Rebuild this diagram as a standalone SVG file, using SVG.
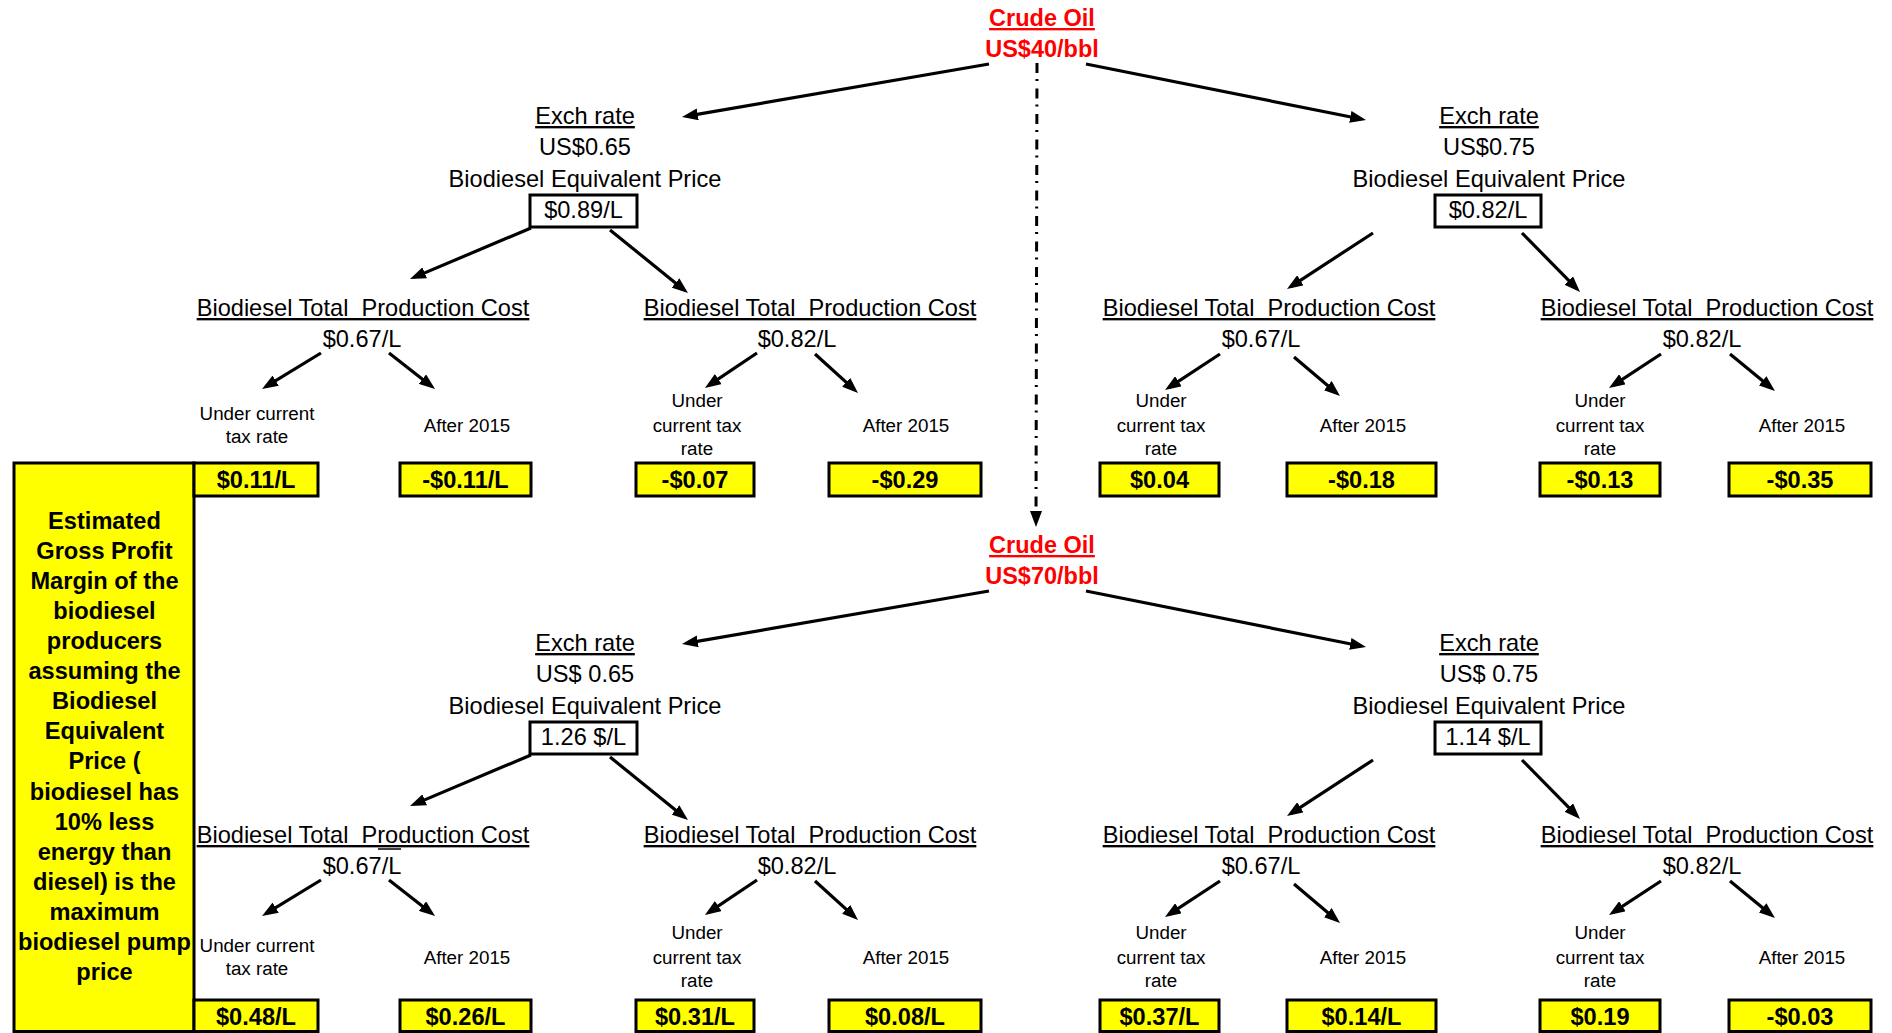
<svg xmlns="http://www.w3.org/2000/svg" width="1892" height="1033" viewBox="0 0 1892 1033">
<style>
text{font-family:"Liberation Sans",Arial,sans-serif;fill:#000;text-anchor:middle}
.crude{font-size:23.5px;font-weight:bold;fill:#FF0000}
.u{text-decoration:underline}
.reg{font-size:23.6px}
.sm{font-size:18.8px}
.val{font-size:23.6px;font-weight:bold}
.side{font-size:23.6px;font-weight:bold}
.ybox{fill:#FFFF00;stroke:#000;stroke-width:3}
.pbox{fill:#fff;stroke:#000;stroke-width:3}
.arr{fill:none;stroke:#000;stroke-width:3.2;marker-end:url(#ah)}
.dd{fill:none;stroke:#000;stroke-width:3;stroke-dasharray:10 6 2 7.5;marker-end:url(#ah)}
</style>
<defs>
<marker id="ah" viewBox="0 0 16 12" refX="11" refY="6" markerWidth="16" markerHeight="12" orient="auto" markerUnits="userSpaceOnUse">
<path d="M0,0 L16,6 L0,12 Z" fill="#000"/>
</marker>
</defs>
<rect width="1892" height="1033" fill="#fff"/>

<g id="side-label">
<rect class="ybox" x="14" y="463" width="180" height="568.5"/>
<text class="side" x="104.5" y="529">Estimated</text>
<text class="side" x="104.5" y="559">Gross Profit</text>
<text class="side" x="104.5" y="589">Margin of the</text>
<text class="side" x="104.5" y="619">biodiesel</text>
<text class="side" x="104.5" y="649">producers</text>
<text class="side" x="104.5" y="679">assuming the</text>
<text class="side" x="104.5" y="709">Biodiesel</text>
<text class="side" x="104.5" y="739">Equivalent</text>
<text class="side" x="104.5" y="769">Price (</text>
<text class="side" x="104.5" y="800">biodiesel has</text>
<text class="side" x="104.5" y="830">10% less</text>
<text class="side" x="104.5" y="860">energy than</text>
<text class="side" x="104.5" y="890">diesel) is the</text>
<text class="side" x="104.5" y="920">maximum</text>
<text class="side" x="104.5" y="950">biodiesel pump</text>
<text class="side" x="104.5" y="980">price</text>
</g>

<g id="connectors">
<path class="dd" d="M1037,63 L1036,522"/>
<!-- top -->
<path class="arr" d="M989,64 L686.9,116.2"/>
<path class="arr" d="M1086,64 L1361.1,119"/>
<path class="arr" d="M531,228 L414.6,277.1"/>
<path class="arr" d="M610,230 L684.1,289.9"/>
<path class="arr" d="M321,353 L266.3,386.4"/>
<path class="arr" d="M389,353 L431.1,385.9"/>
<path class="arr" d="M757,353 L709.1,385.2"/>
<path class="arr" d="M815,354 L854.3,389.6"/>
<path class="arr" d="M1373,233 L1291.2,286.3"/>
<path class="arr" d="M1522,233 L1576.5,288.4"/>
<path class="arr" d="M1220,354 L1169.2,387.3"/>
<path class="arr" d="M1294,357 L1336.2,392.8"/>
<path class="arr" d="M1661,354 L1613.2,385.3"/>
<path class="arr" d="M1730,354 L1771.1,387.8"/>
<!-- bottom -->
<path class="arr" d="M989,591 L686.9,643.2"/>
<path class="arr" d="M1086,591 L1361.1,646"/>
<path class="arr" d="M531,755 L414.6,804.1"/>
<path class="arr" d="M610,757 L684.1,816.9"/>
<path class="arr" d="M321,880 L266.3,913.4"/>
<path class="arr" d="M389,880 L431.1,912.9"/>
<path class="arr" d="M757,880 L709.1,912.2"/>
<path class="arr" d="M815,881 L854.3,916.6"/>
<path class="arr" d="M1373,760 L1291.2,813.3"/>
<path class="arr" d="M1522,760 L1576.5,815.4"/>
<path class="arr" d="M1220,881 L1169.2,914.3"/>
<path class="arr" d="M1294,884 L1336.2,919.8"/>
<path class="arr" d="M1661,881 L1613.2,912.3"/>
<path class="arr" d="M1730,881 L1771.1,914.8"/>
</g>

<!-- ================= TOP: US$40 ================= -->
<g id="crude40">
<text class="crude u" x="1042" y="26">Crude Oil</text>
<text class="crude" x="1042" y="57">US$40/bbl</text>
</g>

<g id="exch065-40">
<text class="reg u" x="585" y="124">Exch rate</text>
<text class="reg" x="585" y="155">US$0.65</text>
<text class="reg" x="585" y="187">Biodiesel Equivalent Price</text>
<rect class="pbox" x="530" y="195" width="107" height="32"/>
<text class="reg" x="583.5" y="218">$0.89/L</text>
</g>

<g id="exch075-40">
<text class="reg u" x="1489" y="124">Exch rate</text>
<text class="reg" x="1489" y="155">US$0.75</text>
<text class="reg" x="1489" y="187">Biodiesel Equivalent Price</text>
<rect class="pbox" x="1435" y="195" width="106" height="32"/>
<text class="reg" x="1488" y="218">$0.82/L</text>
</g>

<g id="cost-a-40">
<text class="reg u" x="363" y="316" xml:space="preserve">Biodiesel Total  Production Cost</text>
<text class="reg" x="362" y="347">$0.67/L</text>
<text class="sm" x="257" y="420">Under current</text>
<text class="sm" x="257" y="443">tax rate</text>
<text class="sm" x="467" y="432">After 2015</text>
</g>
<g id="cost-b-40">
<text class="reg u" x="810" y="316" xml:space="preserve">Biodiesel Total  Production Cost</text>
<text class="reg" x="797" y="347">$0.82/L</text>
<text class="sm" x="697" y="407">Under</text>
<text class="sm" x="697" y="432">current tax</text>
<text class="sm" x="697" y="455">rate</text>
<text class="sm" x="906" y="432">After 2015</text>
</g>
<g id="cost-c-40">
<text class="reg u" x="1269" y="316" xml:space="preserve">Biodiesel Total  Production Cost</text>
<text class="reg" x="1261" y="347">$0.67/L</text>
<text class="sm" x="1161" y="407">Under</text>
<text class="sm" x="1161" y="432">current tax</text>
<text class="sm" x="1161" y="455">rate</text>
<text class="sm" x="1363" y="432">After 2015</text>
</g>
<g id="cost-d-40">
<text class="reg u" x="1707" y="316" xml:space="preserve">Biodiesel Total  Production Cost</text>
<text class="reg" x="1702" y="347">$0.82/L</text>
<text class="sm" x="1600" y="407">Under</text>
<text class="sm" x="1600" y="432">current tax</text>
<text class="sm" x="1600" y="455">rate</text>
<text class="sm" x="1802" y="432">After 2015</text>
</g>

<g id="margins-40">
<rect class="ybox" x="194" y="463" width="124" height="33"/>
<text class="val" x="256" y="488">$0.11/L</text>
<rect class="ybox" x="400" y="463" width="131" height="33"/>
<text class="val" x="465.5" y="488">-$0.11/L</text>
<rect class="ybox" x="636" y="463" width="118" height="33"/>
<text class="val" x="695" y="488">-$0.07</text>
<rect class="ybox" x="829" y="463" width="152" height="33"/>
<text class="val" x="905" y="488">-$0.29</text>
<rect class="ybox" x="1100" y="463" width="119" height="33"/>
<text class="val" x="1159.5" y="488">$0.04</text>
<rect class="ybox" x="1287" y="463" width="149" height="33"/>
<text class="val" x="1361.5" y="488">-$0.18</text>
<rect class="ybox" x="1540" y="463" width="120" height="33"/>
<text class="val" x="1600" y="488">-$0.13</text>
<rect class="ybox" x="1729" y="463" width="142" height="33"/>
<text class="val" x="1800" y="488">-$0.35</text>
</g>

<!-- ================= BOTTOM: US$70 ================= -->
<g id="crude70">
<text class="crude u" x="1042" y="553">Crude Oil</text>
<text class="crude" x="1042" y="584">US$70/bbl</text>
</g>

<g id="exch065-70">
<text class="reg u" x="585" y="651">Exch rate</text>
<text class="reg" x="585" y="682">US$ 0.65</text>
<text class="reg" x="585" y="714">Biodiesel Equivalent Price</text>
<rect class="pbox" x="530" y="722" width="107" height="32"/>
<text class="reg" x="583.5" y="745">1.26 $/L</text>
</g>

<g id="exch075-70">
<text class="reg u" x="1489" y="651">Exch rate</text>
<text class="reg" x="1489" y="682">US$ 0.75</text>
<text class="reg" x="1489" y="714">Biodiesel Equivalent Price</text>
<rect class="pbox" x="1435" y="722" width="106" height="32"/>
<text class="reg" x="1488" y="745">1.14 $/L</text>
</g>

<g id="cost-a-70">
<text class="reg u" x="363" y="843" xml:space="preserve">Biodiesel Total  Production Cost</text>
<line x1="378" y1="849" x2="401" y2="849" stroke="#000" stroke-width="1.5"/>
<text class="reg" x="362" y="874">$0.67/L</text>
<text class="sm" x="257" y="952">Under current</text>
<text class="sm" x="257" y="975">tax rate</text>
<text class="sm" x="467" y="964">After 2015</text>
</g>
<g id="cost-b-70">
<text class="reg u" x="810" y="843" xml:space="preserve">Biodiesel Total  Production Cost</text>
<text class="reg" x="797" y="874">$0.82/L</text>
<text class="sm" x="697" y="939">Under</text>
<text class="sm" x="697" y="964">current tax</text>
<text class="sm" x="697" y="987">rate</text>
<text class="sm" x="906" y="964">After 2015</text>
</g>
<g id="cost-c-70">
<text class="reg u" x="1269" y="843" xml:space="preserve">Biodiesel Total  Production Cost</text>
<text class="reg" x="1261" y="874">$0.67/L</text>
<text class="sm" x="1161" y="939">Under</text>
<text class="sm" x="1161" y="964">current tax</text>
<text class="sm" x="1161" y="987">rate</text>
<text class="sm" x="1363" y="964">After 2015</text>
</g>
<g id="cost-d-70">
<text class="reg u" x="1707" y="843" xml:space="preserve">Biodiesel Total  Production Cost</text>
<text class="reg" x="1702" y="874">$0.82/L</text>
<text class="sm" x="1600" y="939">Under</text>
<text class="sm" x="1600" y="964">current tax</text>
<text class="sm" x="1600" y="987">rate</text>
<text class="sm" x="1802" y="964">After 2015</text>
</g>

<g id="margins-70">
<rect class="ybox" x="194" y="1000" width="124" height="31.5"/>
<text class="val" x="256" y="1025">$0.48/L</text>
<rect class="ybox" x="400" y="1000" width="131" height="31.5"/>
<text class="val" x="465.5" y="1025">$0.26/L</text>
<rect class="ybox" x="636" y="1000" width="118" height="31.5"/>
<text class="val" x="695" y="1025">$0.31/L</text>
<rect class="ybox" x="829" y="1000" width="152" height="31.5"/>
<text class="val" x="905" y="1025">$0.08/L</text>
<rect class="ybox" x="1100" y="1000" width="119" height="31.5"/>
<text class="val" x="1159.5" y="1025">$0.37/L</text>
<rect class="ybox" x="1287" y="1000" width="149" height="31.5"/>
<text class="val" x="1361.5" y="1025">$0.14/L</text>
<rect class="ybox" x="1540" y="1000" width="120" height="31.5"/>
<text class="val" x="1600" y="1025">$0.19</text>
<rect class="ybox" x="1729" y="1000" width="142" height="31.5"/>
<text class="val" x="1800" y="1025">-$0.03</text>
</g>
</svg>
